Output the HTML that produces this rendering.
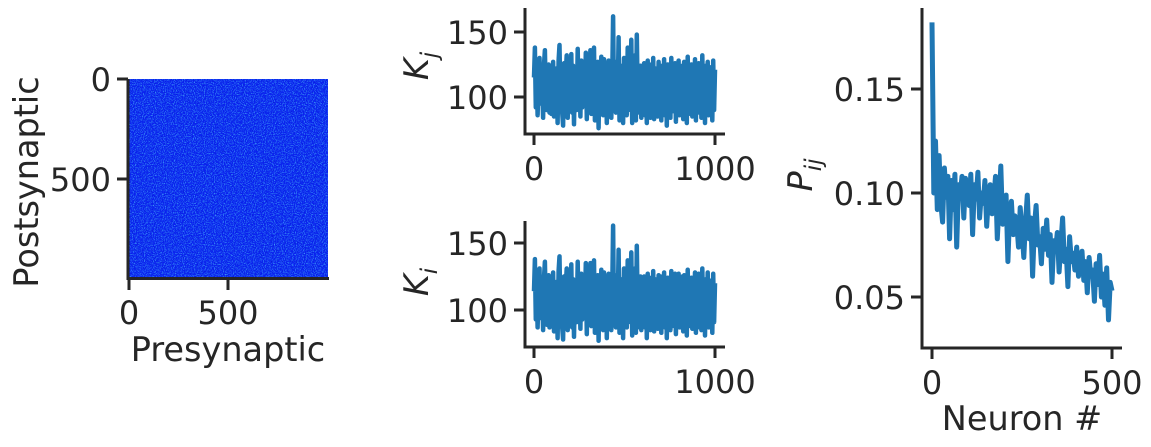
<!DOCTYPE html>
<html><head><meta charset="utf-8">
<style>
html,body{margin:0;padding:0;background:#fff;}
svg{display:block;font-family:"DejaVu Sans","Liberation Sans",sans-serif;}
.tick{font-size:32px;fill:#262626;}
.lab{font-size:33.5px;fill:#262626;}
</style></head>
<body>
<svg id="fig" width="1151" height="447" viewBox="0 0 1151 447">
<defs>
<filter id="noise" x="0" y="0" width="100%" height="100%">
<feTurbulence type="fractalNoise" baseFrequency="0.9" numOctaves="2" seed="3"/>
<feColorMatrix type="matrix" values="0 0 0 0 0.1  0 0 0 0 0.75  0 0 0 0 1  2.6 0 0 0 -1.2"/>
</filter>
<filter id="noise2" x="0" y="0" width="100%" height="100%">
<feTurbulence type="fractalNoise" baseFrequency="0.8" numOctaves="1" seed="9"/>
<feColorMatrix type="matrix" values="0 0 0 0 0  0 0 0 0 0  0 0 0 0 0.2  -2.5 0 0 0 1.0"/>
</filter>
</defs>
<g>
<rect x="129" y="79" width="199" height="199" fill="#0a22ee"/>
<rect x="129" y="79" width="199" height="199" filter="url(#noise2)" opacity="0.6"/>
<rect x="129" y="79" width="199" height="199" filter="url(#noise)" opacity="0.7"/>
</g>
<g stroke="#262626" stroke-width="3" fill="none">
<line x1="128" y1="79" x2="128" y2="280"/>
<line x1="126.5" y1="278.5" x2="329" y2="278.5"/>
<line x1="117" y1="79" x2="128" y2="79"/>
<line x1="117" y1="179" x2="128" y2="179"/>
<line x1="129" y1="278" x2="129" y2="290"/>
<line x1="228" y1="278" x2="228" y2="290"/>
</g>
<text class="tick" x="111" y="91" text-anchor="end">0</text>
<text class="tick" x="111" y="191" text-anchor="end">500</text>
<text class="tick" x="129" y="324" text-anchor="middle">0</text>
<text class="tick" x="228" y="324" text-anchor="middle">500</text>
<text class="lab" x="228" y="361" text-anchor="middle">Presynaptic</text>
<text class="lab" transform="translate(38,182) rotate(-90)" text-anchor="middle">Postsynaptic</text>
<g id="charts"></g>
</svg>
<script>
const kjValues=[115,138,92,120,86,112,130,95,118,110,84,125,136,100,90,122,125,88,118,87,95,127,85,117,105,122,80,128,140,96,112,88,78,126,90,119,132,84,119,92,102,133,88,124,79,116,110,90,137,92,116,85,128,92,99,99,99,134,83,121,95,120,136,87,114,90,138,82,108,94,127,76,120,92,131,100,86,129,96,122,80,117,128,94,125,84,113,162,92,121,88,127,101,146,82,124,97,118,80,130,
92,128,86,138,90,122,106,144,80,126,95,132,82,148,100,120,88,124,84,118,92,126,86,121,80,128,95,117,84,125,90,130,83,122,96,119,85,127,91,124,82,116,98,129,86,121,78,125,93,120,84,130,89,118,95,126,81,123,92,128,86,115,99,124,83,127,90,120,80,131,94,118,87,125,85,122,97,129,82,117,91,126,88,121,84,132,96,119,80,124,93,127,86,115,98,123,82,128,90,121];
const kiValues=[114,138,93,119,87,113,131,94,117,111,85,124,136,101,89,121,126,87,117,88,96,128,84,116,106,121,79,129,140,97,111,87,78,125,91,118,131,85,120,91,101,134,87,123,80,115,111,91,136,93,115,86,127,93,98,98,98,135,82,122,96,121,135,88,113,91,137,83,109,95,126,77,121,91,130,101,85,128,97,123,79,118,127,95,124,85,112,163,91,122,87,126,102,145,83,123,98,117,79,131,
91,127,87,137,91,121,107,143,81,125,96,131,83,148,99,121,87,125,85,117,93,125,87,122,79,127,96,118,85,124,91,129,84,123,95,120,86,126,90,125,83,117,97,128,87,122,79,124,92,121,85,129,88,119,94,127,82,122,93,127,87,116,98,125,84,126,91,121,81,130,93,119,88,124,86,123,96,128,83,118,90,127,87,120,85,131,95,120,81,123,92,128,87,116,97,122,83,127,91,120];
const pijValues=[0.182,0.100,0.125,0.092,0.118,0.095,0.086,0.112,0.098,0.108,0.078,0.106,0.092,0.109,0.074,0.104,0.099,0.108,0.088,0.107,0.102,0.094,0.109,0.080,0.104,0.097,0.110,0.088,0.100,0.095,0.106,0.084,0.099,0.104,0.090,0.097,0.108,0.078,0.095,0.113,0.085,0.093,0.099,0.067,0.090,0.096,0.080,0.089,0.086,0.074,0.093,0.082,0.069,0.086,0.099,0.078,0.088,0.060,0.084,0.094,0.075,0.079,0.066,0.083,0.073,0.087,0.070,0.080,0.057,0.077,0.072,0.081,0.062,0.075,0.088,0.067,0.073,0.055,0.079,0.067,0.071,0.063,0.074,0.060,0.068,0.072,0.058,0.067,0.052,0.069,0.060,0.063,0.048,0.066,0.056,0.070,0.050,0.061,0.046,0.064,0.039,0.057,0.053];
const kTicksX=[0,1000];
const kTicksY=[100,150];
const pTicksX=[0,500];
const pTicksY=[0.05,0.10,0.15];
const pTickLabels=["0.05","0.10","0.15"];

const NS="http://www.w3.org/2000/svg";
const root=document.getElementById('charts');
function mk(tag,attrs,parent){const e=document.createElementNS(NS,tag);for(const k in attrs)e.setAttribute(k,attrs[k]);(parent||root).appendChild(e);return e;}

function panel(cfg){
  const g=mk('g',{});
  
  
  const xs=v=>cfg.x0+(v-cfg.xv0)/(cfg.xv1-cfg.xv0)*(cfg.x1-cfg.x0);
  const ys=v=>cfg.y0+(v-cfg.yv0)/(cfg.yv1-cfg.yv0)*(cfg.y1-cfg.y0);
  const n=cfg.values.length;
  let d='';
  cfg.values.forEach((v,i)=>{const xv=cfg.xv0+i*(cfg.xmax-cfg.xv0)/(n-1);d+=(i?'L':'M')+xs(xv).toFixed(1)+' '+ys(v).toFixed(1);});
  const line=mk('path',{d:d,fill:'none',stroke:'#1f77b4','stroke-width':cfg.lw||4.5,'stroke-linejoin':'round'},g);
  
  
  const ax=mk('g',{stroke:'#262626','stroke-width':3},g);
  
  
  mk('line',{x1:cfg.spineL,y1:cfg.spineTop,x2:cfg.spineL,y2:cfg.spineB+1.5},ax);
  mk('line',{x1:cfg.spineL-1.5,y1:cfg.spineB,x2:cfg.spineR,y2:cfg.spineB},ax);
  cfg.ticksX.forEach(t=>{
    mk('line',{x1:xs(t),y1:cfg.spineB,x2:xs(t),y2:cfg.spineB+11},ax);
    const tx=mk('text',{x:xs(t),y:cfg.spineB+46,'text-anchor':'middle',class:'tick'},g);
    tx.textContent=t;
    
    
  });
  cfg.ticksY.forEach((t,i)=>{
    mk('line',{x1:cfg.spineL-11,y1:ys(t),x2:cfg.spineL,y2:ys(t)},ax);
    const tx=mk('text',{x:cfg.spineL-17,y:ys(t)+12,'text-anchor':'end',class:'tick'},g);
    tx.textContent=cfg.yLabels?cfg.yLabels[i]:t;
    
    
  });
  return g;
}
panel({name:'kj-chart',values:kjValues,xv0:0,xv1:1000,xmax:1000,x0:534,x1:715,yv0:100,yv1:150,y0:97,y1:32,spineL:525,spineB:134,spineTop:8,spineR:725,ticksX:kTicksX,ticksY:kTicksY});
panel({name:'ki-chart',values:kiValues,xv0:0,xv1:1000,xmax:1000,x0:534,x1:715,yv0:100,yv1:150,y0:310,y1:243,spineL:525,spineB:347,spineTop:221,spineR:725,ticksX:kTicksX,ticksY:kTicksY});
panel({name:'pij-chart',values:pijValues,xv0:0,xv1:500,xmax:500,x0:932,x1:1112,yv0:0.05,yv1:0.15,y0:297,y1:89,spineL:922,spineB:348,spineTop:8,spineR:1122,ticksX:pTicksX,ticksY:pTicksY,yLabels:pTickLabels,lw:5});

function label(txt,sub,x,y,name){
  const t=mk('text',{transform:'translate('+x+','+y+') rotate(-90)','text-anchor':'middle',class:'lab','font-style':'italic'});
  
  
  const a=mk('tspan',{},t);a.textContent=txt;
  const b=mk('tspan',{dy:9,'font-size':23},t);b.textContent=sub;
}
label('K','j',428,66,'y-axis-title-kj');
label('K','i',428,282,'y-axis-title-ki');
label('P','ij',812,175,'y-axis-title-pij');
const nt=mk('text',{x:1022,y:430,'text-anchor':'middle',class:'lab'});
nt.textContent='Neuron #';


</script>
</body></html>
